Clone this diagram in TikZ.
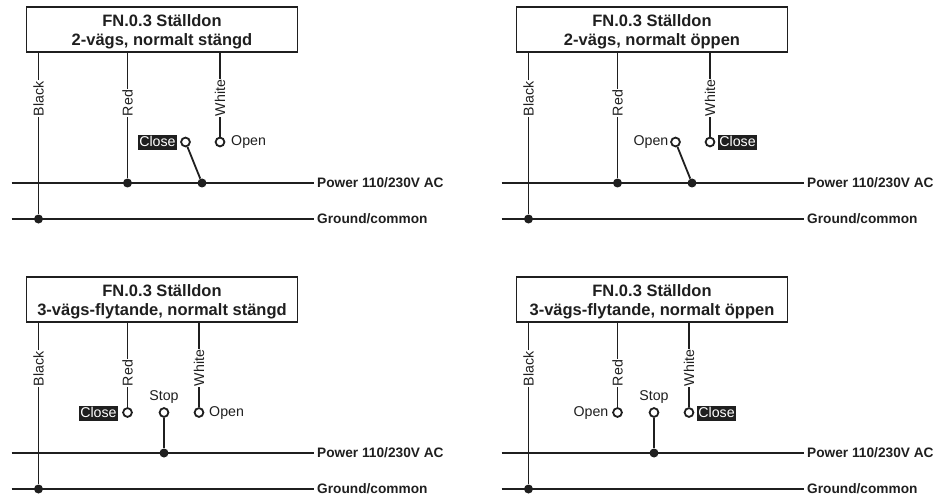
\documentclass[tikz,border=0pt]{standalone}
\usepackage{fontspec}
\setmainfont{Liberation Sans}
\definecolor{ink}{HTML}{1F1F1F}
\tikzset{
  wire/.style={draw=ink,line width=1.8pt},
  titlebox/.style={draw=ink,line width=1.9pt,fill=white,minimum width=271pt,minimum height=45pt,inner sep=0pt,align=center,text=ink,font=\fontsize{16.5}{19}\selectfont\bfseries},
  term/.style={circle,draw=ink,fill=white,line width=1.8pt,minimum size=8.8pt,inner sep=0pt},
  joint/.style={circle,fill=ink,minimum size=9pt,inner sep=0pt},
  wirelabel/.style={rotate=90,fill=white,inner sep=1.2pt,text=ink,font=\fontsize{14.2}{14}\selectfont,anchor=west},
  plainlabel/.style={inner sep=0pt,text=ink,font=\fontsize{14.2}{14}\selectfont},
  tag/.style={plainlabel,fill=ink,text=white,text height=11.2pt,text depth=2.6pt,inner xsep=1.2pt,inner ysep=0.6pt},
  rail/.style={inner sep=0pt,anchor=west,text=ink,font=\fontsize{13.7}{14}\selectfont\bfseries}
}
\newcommand{\panelbase}[1]{%
  \node[titlebox] (box) at (162,29.5) {\rule{0pt}{17pt}#1};
  \coordinate (pl) at (11.5,183);
  \coordinate (gl) at (11.5,219);
  \coordinate (pr) at (314,183);
  \coordinate (gr) at (314,219);
  \node[rail] (plab) at (317,183) {Power 110/230V AC};
  \node[rail] (glab) at (317,219) {Ground/common};
  \node[joint] (gj) at (38.5,219) {};
  \draw[wire] (pl) -- (pr);
  \draw[wire] (gl) -- (gr);
  \draw[wire] (gj |- box.south) -- (gj);
  \node[wirelabel] at (38.5,117.5) {Black};
}
\newcommand{\twoway}[3]{%
  \panelbase{#1}
  \node[joint] (rj) at (127.5,183) {};
  \draw[wire] (rj |- box.south) -- (rj);
  \node[wirelabel] at (127.5,117.5) {Red};
  \node[term] (wt) at (220,142) {};
  \draw[wire] (wt |- box.south) -- (wt);
  \node[wirelabel] at (220,117.5) {White};
  \node[term] (lt) at (185.5,142) {};
  \node[joint] (sj) at (202,183) {};
  \draw[wire] (lt) -- (sj);
  #2
  #3
}
\newcommand{\threeway}[3]{%
  \panelbase{#1}
  \node[term] (rt) at (127.5,142.5) {};
  \draw[wire] (rt |- box.south) -- (rt);
  \node[wirelabel] at (127.5,117.5) {Red};
  \node[term] (wt) at (199,142.5) {};
  \draw[wire] (wt |- box.south) -- (wt);
  \node[wirelabel] at (199,117.5) {White};
  \node[term] (st) at (164,142.5) {};
  \node[joint] (sj) at (164,183) {};
  \draw[wire] (st) -- (sj);
  \node[plainlabel,anchor=south] at (164,134) {Stop};
  #2
  #3
}
\begin{document}
\begin{tikzpicture}[x=1pt,y=-1pt]
\useasboundingbox (0,0) rectangle (947,497);
\begin{scope}[name prefix=a-]
  \twoway{FN.0.3 Ställdon\\2-vägs, normalt stängd}
    {\node[tag,anchor=east] at (177,142.5) {Close};}
    {\node[plainlabel,anchor=west] at (231,142.5) {Open};}
\end{scope}
\begin{scope}[shift={(490,0)},name prefix=b-]
  \twoway{FN.0.3 Ställdon\\2-vägs, normalt öppen}
    {\node[plainlabel,anchor=east] at (178.5,142.5) {Open};}
    {\node[tag,anchor=west] at (228,142.5) {Close};}
\end{scope}
\begin{scope}[shift={(0,270)},name prefix=c-]
  \threeway{FN.0.3 Ställdon\\3-vägs-flytande, normalt stängd}
    {\node[tag,anchor=east] at (118,143) {Close};}
    {\node[plainlabel,anchor=west] at (209,143) {Open};}
\end{scope}
\begin{scope}[shift={(490,270)},name prefix=d-]
  \threeway{FN.0.3 Ställdon\\3-vägs-flytande, normalt öppen}
    {\node[plainlabel,anchor=east] at (118.5,143) {Open};}
    {\node[tag,anchor=west] at (207,143) {Close};}
\end{scope}
\end{tikzpicture}
\end{document}
